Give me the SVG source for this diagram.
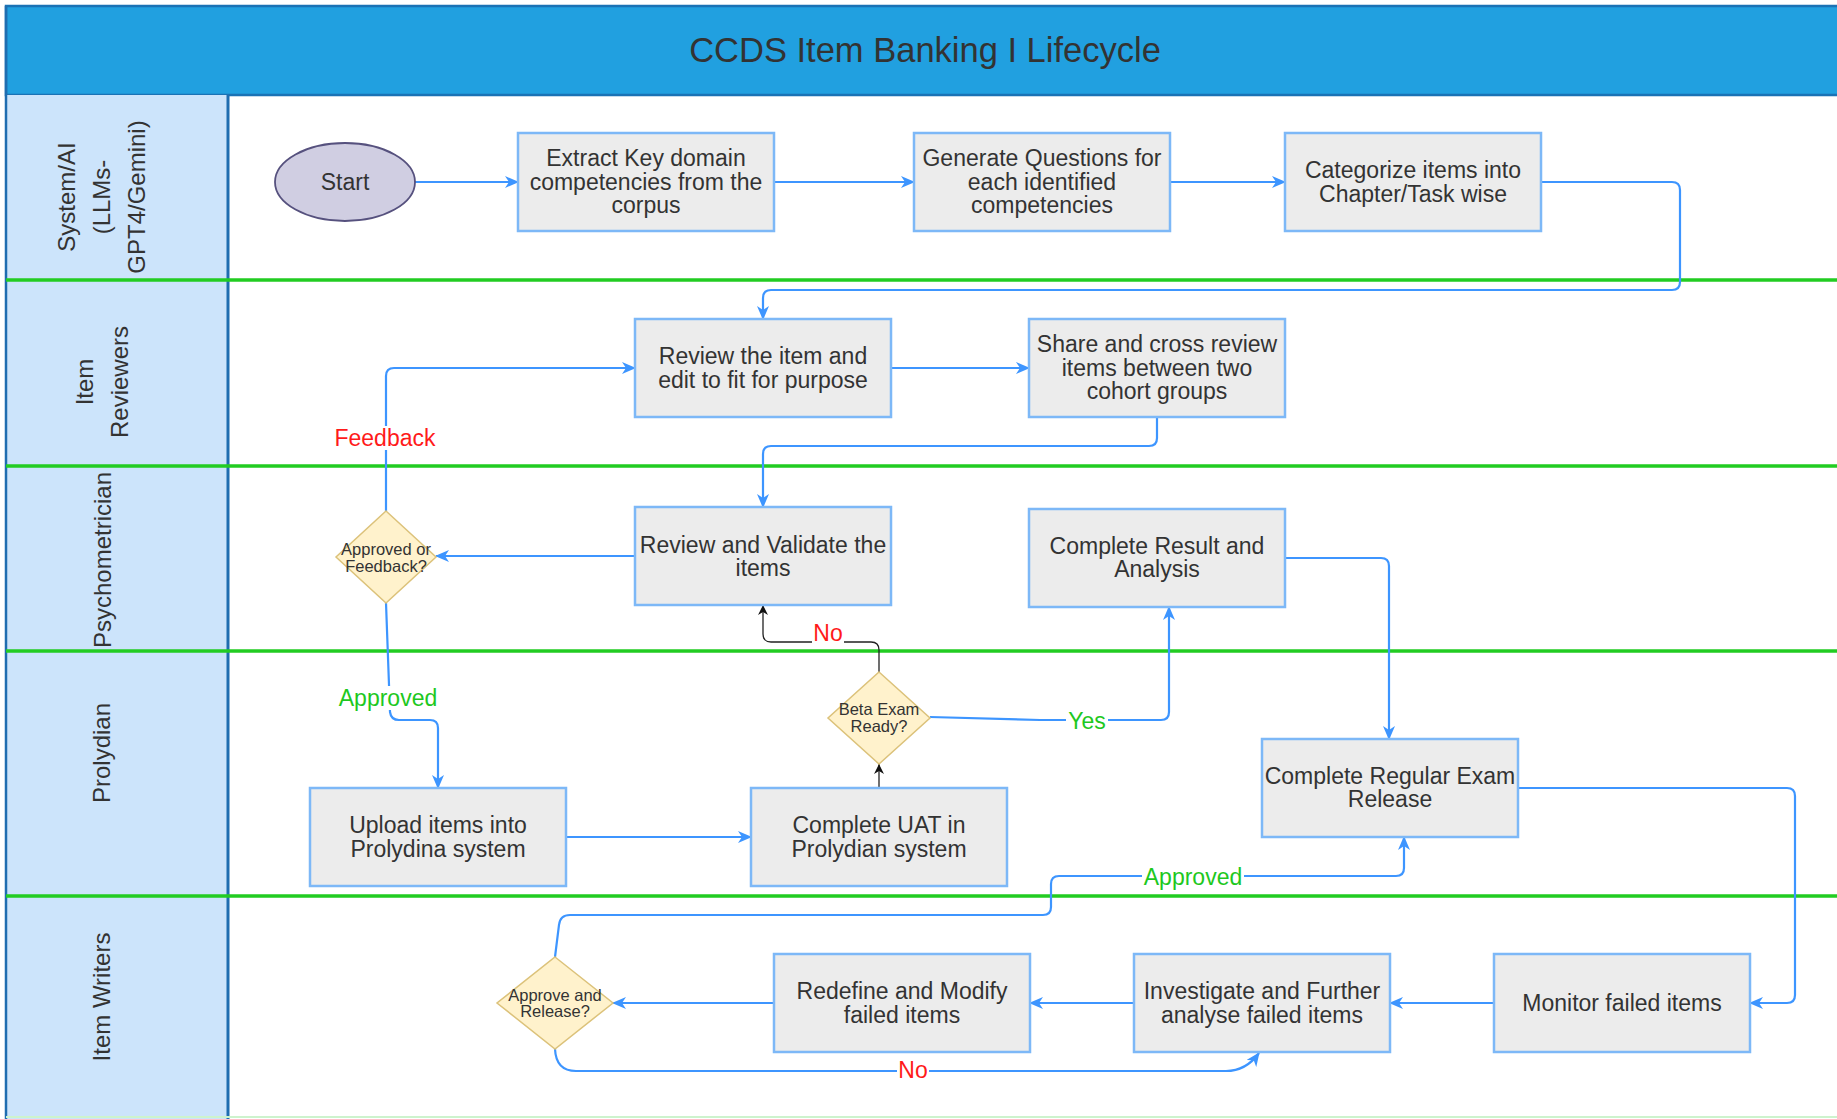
<svg xmlns="http://www.w3.org/2000/svg" width="1837" height="1119" viewBox="0 0 1837 1119">
<style>
  text { font-family: "Liberation Sans", Arial, Helvetica, sans-serif; fill: #333333; }
  .box { fill: #ececec; stroke: #7db8f7; stroke-width: 2.5; }
  .dia { fill: #fff2cc; stroke: #dcc27a; stroke-width: 1.5; }
  .bt { font-size: 23px; text-anchor: middle; }
  .dt { font-size: 16.5px; text-anchor: middle; }
  .lane { font-size: 24px; text-anchor: middle; }
  .edge { fill: none; stroke: #3d95ff; stroke-width: 2.2; marker-end: url(#ab); }
  .edgek { fill: none; stroke: #222222; stroke-width: 1.3; marker-end: url(#ak); }
  .lbl { font-size: 23px; text-anchor: middle; }
  .red { fill: #ff1a1a; }
  .grn { fill: #1ec81e; }
  .sep { stroke: #22cc22; stroke-width: 3.5; }
</style>
<defs>
  <marker id="ab" markerWidth="14" markerHeight="12" refX="13" refY="6" orient="auto" markerUnits="userSpaceOnUse">
    <path d="M0,0 L14,6 L0,12 L4,6 z" fill="#3d95ff"/>
  </marker>
  <marker id="ak" markerWidth="10" markerHeight="10" refX="10" refY="5" orient="auto" markerUnits="userSpaceOnUse">
    <path d="M0,0 L10,5 L0,10 L3,5 z" fill="#111111"/>
  </marker>
</defs>

<rect x="0" y="0" width="1837" height="1119" fill="#ffffff"/>

<!-- Pool header -->
<g id="header">
  <rect x="6" y="6" width="1833" height="89" fill="#21a0e0" stroke="#1a72b5" stroke-width="2.5"/>
  <text x="925" y="62" font-size="34.5" text-anchor="middle" fill="#3a3a3a">CCDS Item Banking I Lifecycle</text>
</g>

<!-- Lane label column -->
<g id="lanes">
  <rect x="6" y="95" width="222" height="1024" fill="#cce4fb"/>
  <line x1="6" y1="6" x2="6" y2="1119" stroke="#1f6db0" stroke-width="2.5"/>
  <line x1="228" y1="95" x2="228" y2="1119" stroke="#1f6db0" stroke-width="3"/>
  <line class="sep" x1="6" y1="280" x2="1837" y2="280"/>
  <line class="sep" x1="6" y1="466" x2="1837" y2="466"/>
  <line class="sep" x1="6" y1="651" x2="1837" y2="651"/>
  <line class="sep" x1="6" y1="896" x2="1837" y2="896"/>
  <line x1="6" y1="1117" x2="1837" y2="1117" stroke="#cdf3cd" stroke-width="2"/>
  <g id="lane-system">
    <text class="lane" transform="translate(75,197) rotate(-90)">System/AI</text>
    <text class="lane" transform="translate(110,197) rotate(-90)">(LLMs-</text>
    <text class="lane" transform="translate(145,197) rotate(-90)">GPT4/Gemini)</text>
  </g>
  <g id="lane-reviewers">
    <text class="lane" transform="translate(93,382) rotate(-90)">Item</text>
    <text class="lane" transform="translate(128,382) rotate(-90)">Reviewers</text>
  </g>
  <text id="lane-psy" class="lane" transform="translate(111,560) rotate(-90)">Psychometrician</text>
  <text id="lane-prolydian" class="lane" transform="translate(110,753) rotate(-90)">Prolydian</text>
  <text id="lane-writers" class="lane" transform="translate(110,997) rotate(-90)">Item Writers</text>
</g>

<!-- Connectors -->
<g id="connectors">
  <path class="edge" d="M415 182 H518"/>
  <path class="edge" d="M774 182 H914"/>
  <path class="edge" d="M1170 182 H1285"/>
  <path class="edge" d="M1541 182 H1672 Q1680 182 1680 190 V282 Q1680 290 1672 290 H771 Q763 290 763 298 V319"/>
  <path class="edge" d="M891 368 H1029"/>
  <path class="edge" d="M1157 417 V438 Q1157 446 1149 446 H771 Q763 446 763 454 V507"/>
  <path class="edge" d="M635 556 H436"/>
  <path class="edge" d="M386 511 V376 Q386 368 394 368 H635"/>
  <path class="edge" d="M386 603 L390 712 Q391 720 399 720 H430 Q438 720 438 728 V788"/>
  <path class="edge" d="M566 837 H751"/>
  <path class="edgek" d="M879 788 V764"/>
  <path class="edgek" d="M879 672 V650 Q879 642 871 642 H771 Q763 642 763 634 V605"/>
  <path class="edge" d="M930 717 L1040 720 H1161 Q1169 720 1169 712 V607"/>
  <path class="edge" d="M1285 558 H1381 Q1389 558 1389 566 V739"/>
  <path class="edge" d="M1518 788 H1787 Q1795 788 1795 796 V995 Q1795 1003 1787 1003 H1750"/>
  <path class="edge" d="M1494 1003 H1390"/>
  <path class="edge" d="M1134 1003 H1030"/>
  <path class="edge" d="M774 1003 H613"/>
  <path class="edge" d="M555 957 L559 925 Q560 915 570 915 H1043 Q1051 915 1051 907 V884 Q1051 876 1059 876 H1396 Q1404 876 1404 868 V837"/>
  <path class="edge" d="M555 1049 Q556 1071 576 1071 H1226 Q1246 1071 1259 1053"/>
  <!-- edge labels -->
  <rect x="334" y="426" width="102" height="24" fill="#ffffff"/>
  <text class="lbl red" x="385" y="446">Feedback</text>
  <rect x="338" y="686" width="100" height="24" fill="#ffffff"/>
  <text class="lbl grn" x="388" y="706">Approved</text>
  <rect x="812" y="622" width="32" height="22" fill="#ffffff"/>
  <text class="lbl red" x="828" y="641">No</text>
  <rect x="1066" y="710" width="42" height="22" fill="#ffffff"/>
  <text class="lbl grn" x="1087" y="729">Yes</text>
  <rect x="1142" y="865" width="102" height="24" fill="#ffffff"/>
  <text class="lbl grn" x="1193" y="885">Approved</text>
  <rect x="897" y="1059" width="32" height="22" fill="#ffffff"/>
  <text class="lbl red" x="913" y="1078">No</text>
</g>

<!-- Nodes -->
<g id="start">
  <ellipse cx="345" cy="182" rx="70" ry="39" fill="#d0cee2" stroke="#56517e" stroke-width="1.8"/>
  <text class="bt" x="345" y="190">Start</text>
</g>
<g id="extract">
  <rect class="box" x="518" y="133" width="256" height="98"/>
  <text class="bt" x="646" y="166">Extract Key domain</text>
  <text class="bt" x="646" y="190">competencies from the</text>
  <text class="bt" x="646" y="213">corpus</text>
</g>
<g id="generate">
  <rect class="box" x="914" y="133" width="256" height="98"/>
  <text class="bt" x="1042" y="166">Generate Questions for</text>
  <text class="bt" x="1042" y="190">each identified</text>
  <text class="bt" x="1042" y="213">competencies</text>
</g>
<g id="categorize">
  <rect class="box" x="1285" y="133" width="256" height="98"/>
  <text class="bt" x="1413" y="178">Categorize items into</text>
  <text class="bt" x="1413" y="202">Chapter/Task wise</text>
</g>
<g id="review-edit">
  <rect class="box" x="635" y="319" width="256" height="98"/>
  <text class="bt" x="763" y="364">Review the item and</text>
  <text class="bt" x="763" y="388">edit to fit for purpose</text>
</g>
<g id="share">
  <rect class="box" x="1029" y="319" width="256" height="98"/>
  <text class="bt" x="1157" y="352">Share and cross review</text>
  <text class="bt" x="1157" y="376">items between two</text>
  <text class="bt" x="1157" y="399">cohort groups</text>
</g>
<g id="review-validate">
  <rect class="box" x="635" y="507" width="256" height="98"/>
  <text class="bt" x="763" y="553">Review and Validate the</text>
  <text class="bt" x="763" y="576">items</text>
</g>
<g id="result">
  <rect class="box" x="1029" y="509" width="256" height="98"/>
  <text class="bt" x="1157" y="554">Complete Result and</text>
  <text class="bt" x="1157" y="577">Analysis</text>
</g>
<g id="approved-feedback">
  <polygon class="dia" points="386,511 436,557 386,603 336,557"/>
  <text class="dt" x="386" y="555">Approved or</text>
  <text class="dt" x="386" y="572">Feedback?</text>
</g>
<g id="beta">
  <polygon class="dia" points="879,672 930,718 879,764 828,718"/>
  <text class="dt" x="879" y="715">Beta Exam</text>
  <text class="dt" x="879" y="732">Ready?</text>
</g>
<g id="upload">
  <rect class="box" x="310" y="788" width="256" height="98"/>
  <text class="bt" x="438" y="833">Upload items into</text>
  <text class="bt" x="438" y="857">Prolydina system</text>
</g>
<g id="uat">
  <rect class="box" x="751" y="788" width="256" height="98"/>
  <text class="bt" x="879" y="833">Complete UAT in</text>
  <text class="bt" x="879" y="857">Prolydian system</text>
</g>
<g id="regular">
  <rect class="box" x="1262" y="739" width="256" height="98"/>
  <text class="bt" x="1390" y="784">Complete Regular Exam</text>
  <text class="bt" x="1390" y="807">Release</text>
</g>
<g id="approve-release">
  <polygon class="dia" points="555,957 613,1003 555,1049 497,1003"/>
  <text class="dt" x="555" y="1001" font-size="14">Approve and</text>
  <text class="dt" x="555" y="1017" font-size="14">Release?</text>
</g>
<g id="redefine">
  <rect class="box" x="774" y="954" width="256" height="98"/>
  <text class="bt" x="902" y="999">Redefine and Modify</text>
  <text class="bt" x="902" y="1023">failed items</text>
</g>
<g id="investigate">
  <rect class="box" x="1134" y="954" width="256" height="98"/>
  <text class="bt" x="1262" y="999">Investigate and Further</text>
  <text class="bt" x="1262" y="1023">analyse failed items</text>
</g>
<g id="monitor">
  <rect class="box" x="1494" y="954" width="256" height="98"/>
  <text class="bt" x="1622" y="1011">Monitor failed items</text>
</g>
</svg>
